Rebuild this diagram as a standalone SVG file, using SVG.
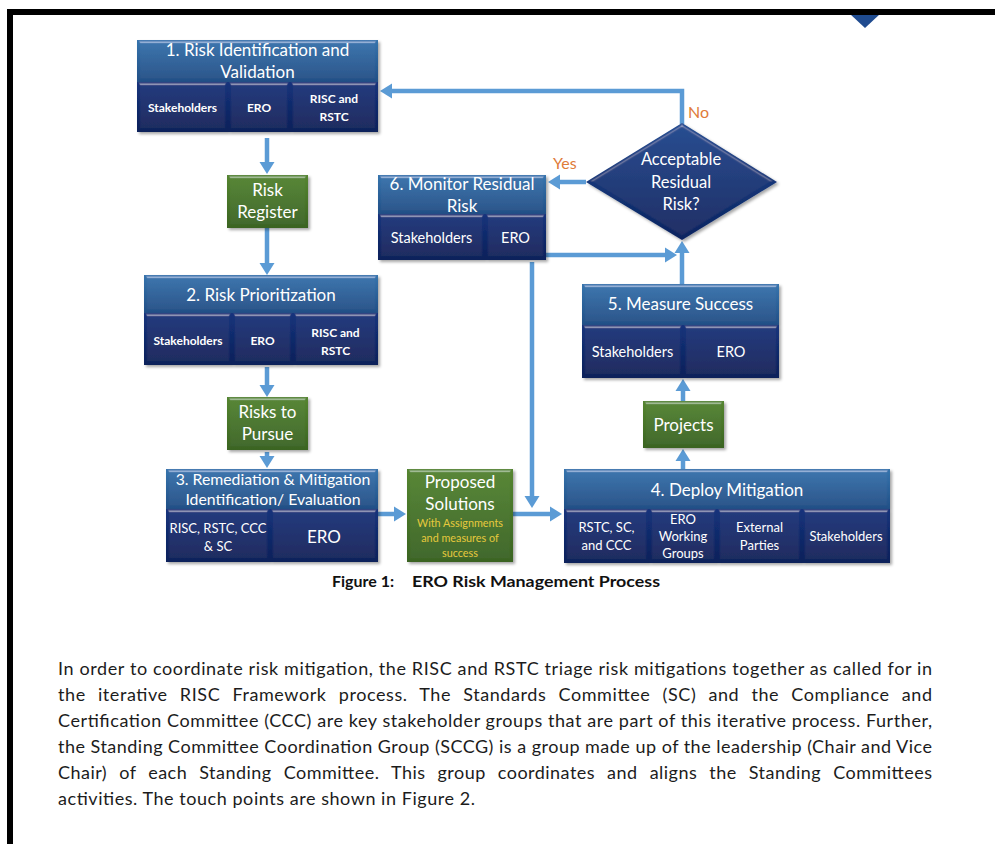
<svg xmlns="http://www.w3.org/2000/svg" width="995" height="844" viewBox="0 0 995 844">
  <defs>
    <linearGradient id="gHdr" x1="0" y1="0" x2="0" y2="1">
      <stop offset="0" stop-color="#3674ad"/>
      <stop offset="1" stop-color="#214f86"/>
    </linearGradient>
    <linearGradient id="gCell" x1="0" y1="0" x2="0" y2="1">
      <stop offset="0" stop-color="#15347c"/>
      <stop offset="1" stop-color="#0b205a"/>
    </linearGradient>
    <linearGradient id="gGrn" x1="0" y1="0" x2="0" y2="1">
      <stop offset="0" stop-color="#558530"/>
      <stop offset="1" stop-color="#3a6421"/>
    </linearGradient>
    <linearGradient id="gDia" x1="0" y1="0" x2="0" y2="1">
      <stop offset="0" stop-color="#1d4990"/>
      <stop offset="1" stop-color="#0c2460"/>
    </linearGradient>
    <!-- bevelled face with a soft drop shadow -->
    <filter id="bevel" x="-10%" y="-10%" width="125%" height="135%">
      <feGaussianBlur in="SourceAlpha" stdDeviation="1.6" result="blur"/>
      <feSpecularLighting in="blur" surfaceScale="3" specularConstant="0.6" specularExponent="24" lighting-color="#ffffff" result="spec">
        <feDistantLight azimuth="270" elevation="30"/>
      </feSpecularLighting>
      <feComposite in="spec" in2="SourceAlpha" operator="in" result="specIn"/>
      <feComposite in="SourceGraphic" in2="specIn" operator="arithmetic" k1="0" k2="1" k3="0.5" k4="0" result="lit"/>
      <feOffset in="SourceAlpha" dx="1.5" dy="2" result="off"/>
      <feGaussianBlur in="off" stdDeviation="1.5" result="offBlur"/>
      <feColorMatrix in="offBlur" type="matrix" values="0 0 0 0 0  0 0 0 0 0  0 0 0 0 0  0 0 0 0.35 0" result="shadow"/>
      <feMerge>
        <feMergeNode in="shadow"/>
        <feMergeNode in="lit"/>
      </feMerge>
    </filter>
    <marker id="arrow" viewBox="0 -8 13 16" markerWidth="13" markerHeight="16" refX="0" refY="0" orient="auto" markerUnits="userSpaceOnUse">
      <path d="M0,-7.5 L12,0 L0,7.5 z" fill="#5b9bd5"/>
    </marker>
    <style>
      .hdr { fill: url(#gHdr); filter: url(#bevel); }
      .cell { fill: url(#gCell); filter: url(#bevel); }
      .grn { fill: url(#gGrn); filter: url(#bevel); }
      .dia { fill: url(#gDia); filter: url(#bevel); }
      text { font-family: Lato, "Open Sans", "Liberation Sans", sans-serif; fill: #ffffff; text-anchor: middle; }
      .h { font-size: 17px; }
      .hs { font-size: 15.8px; }
      .cb { font-size: 12px; font-weight: bold; }
      .cm { font-size: 14.5px; }
      .cs { font-size: 13px; }
      .ye { font-size: 16.5px; }
      .yl { fill: #e6c93c; font-size: 10.8px; }
      .lbl { fill: #e07b39; font-size: 16px; text-anchor: start; }
      .cap { fill: #111111; font-size: 16px; font-weight: bold; text-anchor: start; }
      .para { fill: #1c1c1c; font-size: 18px; text-anchor: start; }
      .conn { fill: none; stroke: #5b9bd5; stroke-width: 4.5; marker-end: url(#arrow); }
    </style>
  </defs>

  <rect width="995" height="844" fill="#ffffff"/>

  <!-- page frame -->
  <polygon points="850,14 880,14 865,28" fill="#1f4b8f"/>
  <rect x="7" y="9" width="988" height="6" fill="#000000"/>
  <rect x="7" y="9" width="6" height="835" fill="#000000"/>

  <!-- connectors -->
  <g id="connectors">
    <line class="conn" x1="267" y1="138" x2="267" y2="162"/>
    <line class="conn" x1="267" y1="228" x2="267" y2="263"/>
    <line class="conn" x1="267" y1="367" x2="267" y2="385"/>
    <line class="conn" x1="267" y1="452" x2="267" y2="456"/>
    <line class="conn" x1="378" y1="514" x2="394" y2="514"/>
    <line class="conn" x1="513" y1="514" x2="550" y2="514"/>
    <line class="conn" x1="532" y1="262" x2="532" y2="496"/>
    <line class="conn" x1="683" y1="469" x2="683" y2="461"/>
    <line class="conn" x1="683" y1="401" x2="683" y2="391"/>
    <line class="conn" x1="682" y1="284" x2="682" y2="253"/>
    <line class="conn" x1="546" y1="255" x2="665" y2="255"/>
    <line class="conn" x1="586" y1="182" x2="560" y2="182"/>
    <polyline class="conn" points="682,124 682,91 392,91"/>
    <text class="lbl" x="553" y="169">Yes</text>
    <text class="lbl" x="688" y="118">No</text>
  </g>

  <!-- 1. Risk Identification and Validation -->
  <g id="node1">
    <rect class="hdr" x="137" y="40" width="241" height="42"/>
    <rect class="cell" x="137" y="82" width="91" height="50"/>
    <rect class="cell" x="228" y="82" width="62" height="50"/>
    <rect class="cell" x="290" y="82" width="88" height="50"/>
    <text class="h" x="257.5" y="56">1. Risk Identification and</text>
    <text class="h" x="257.5" y="78">Validation</text>
    <text class="cb" x="182.5" y="112">Stakeholders</text>
    <text class="cb" x="259" y="112">ERO</text>
    <text class="cb" x="334" y="103">RISC and</text>
    <text class="cb" x="334" y="121">RSTC</text>
  </g>

  <g id="riskRegister">
    <rect class="grn" x="227" y="175" width="81" height="53"/>
    <text class="h" x="267.5" y="196">Risk</text>
    <text class="h" x="267.5" y="218">Register</text>
  </g>

  <!-- 2. Risk Prioritization -->
  <g id="node2">
    <rect class="hdr" x="144" y="275" width="234" height="38"/>
    <rect class="cell" x="144" y="313" width="88" height="52"/>
    <rect class="cell" x="232" y="313" width="61" height="52"/>
    <rect class="cell" x="293" y="313" width="85" height="52"/>
    <text class="h" x="261" y="301">2. Risk Prioritization</text>
    <text class="cb" x="188" y="345">Stakeholders</text>
    <text class="cb" x="262.5" y="345">ERO</text>
    <text class="cb" x="335.5" y="337">RISC and</text>
    <text class="cb" x="335.5" y="355">RSTC</text>
  </g>

  <g id="risksToPursue">
    <rect class="grn" x="227" y="397" width="81" height="53"/>
    <text class="h" x="267.5" y="418">Risks to</text>
    <text class="h" x="267.5" y="440">Pursue</text>
  </g>

  <!-- 3. Remediation & Mitigation -->
  <g id="node3">
    <rect class="hdr" x="166" y="469" width="212" height="40"/>
    <rect class="cell" x="166" y="509" width="104" height="53"/>
    <rect class="cell" x="270" y="509" width="108" height="53"/>
    <text class="hs" x="273" y="485">3. Remediation &amp; Mitigation</text>
    <text class="hs" x="273" y="505">Identification/ Evaluation</text>
    <text class="cs" x="218" y="533">RISC, RSTC, CCC</text>
    <text class="cs" x="218" y="551">&amp; SC</text>
    <text class="h" x="324" y="543">ERO</text>
  </g>

  <g id="proposedSolutions">
    <rect class="grn" x="407" y="469" width="106" height="93"/>
    <text class="h" x="460" y="488">Proposed</text>
    <text class="h" x="460" y="510">Solutions</text>
    <text class="yl" x="460" y="527">With Assignments</text>
    <text class="yl" x="460" y="542">and measures of</text>
    <text class="yl" x="460" y="557">success</text>
  </g>

  <!-- 4. Deploy Mitigation -->
  <g id="node4">
    <rect class="hdr" x="564" y="469" width="326" height="40"/>
    <rect class="cell" x="564" y="509" width="85" height="54"/>
    <rect class="cell" x="649" y="509" width="68" height="54"/>
    <rect class="cell" x="717" y="509" width="85" height="54"/>
    <rect class="cell" x="802" y="509" width="88" height="54"/>
    <text class="h" x="727" y="496">4. Deploy Mitigation</text>
    <text class="cs" x="606.5" y="532">RSTC, SC,</text>
    <text class="cs" x="606.5" y="550">and CCC</text>
    <text class="cs" x="683" y="524">ERO</text>
    <text class="cs" x="683" y="541">Working</text>
    <text class="cs" x="683" y="558">Groups</text>
    <text class="cs" x="759.5" y="532">External</text>
    <text class="cs" x="759.5" y="550">Parties</text>
    <text class="cs" x="846" y="541">Stakeholders</text>
  </g>

  <g id="projects">
    <rect class="grn" x="643" y="401" width="81" height="47"/>
    <text class="h" x="683.5" y="431">Projects</text>
  </g>

  <!-- 5. Measure Success -->
  <g id="node5">
    <rect class="hdr" x="582" y="284" width="197" height="41"/>
    <rect class="cell" x="582" y="325" width="101" height="53"/>
    <rect class="cell" x="683" y="325" width="96" height="53"/>
    <text class="h" x="680.5" y="310">5. Measure Success</text>
    <text class="cm" x="632.5" y="357">Stakeholders</text>
    <text class="cm" x="731" y="357">ERO</text>
  </g>

  <!-- decision -->
  <g id="decision">
    <polygon class="dia" points="682,123 777,182 682,240 586,182"/>
    <text class="ye" x="681" y="165">Acceptable</text>
    <text class="ye" x="681" y="188">Residual</text>
    <text class="ye" x="681" y="210">Risk?</text>
  </g>

  <!-- 6. Monitor Residual Risk -->
  <g id="node6">
    <rect class="hdr" x="378" y="175" width="168" height="39"/>
    <rect class="cell" x="378" y="214" width="107" height="46"/>
    <rect class="cell" x="485" y="214" width="61" height="46"/>
    <text class="h" x="462" y="190">6. Monitor Residual</text>
    <text class="h" x="462" y="212">Risk</text>
    <text class="cm" x="431.5" y="243">Stakeholders</text>
    <text class="cm" x="515.5" y="243">ERO</text>
  </g>

  <!-- caption -->
  <text class="cap" x="332" y="587">Figure 1:</text>
  <text class="cap" x="412" y="587" textLength="248" lengthAdjust="spacingAndGlyphs">ERO Risk Management Process</text>

  <!-- body text -->
  <g id="bodyText">
    <text class="para" x="58" y="675" textLength="874" lengthAdjust="spacing">In order to coordinate risk mitigation, the RISC and RSTC triage risk mitigations together as called for in</text>
    <text class="para" x="58" y="701" textLength="874" lengthAdjust="spacing" word-spacing="7">the iterative RISC Framework process. The Standards Committee (SC) and the Compliance and</text>
    <text class="para" x="58" y="727" textLength="874" lengthAdjust="spacing">Certification Committee (CCC) are key stakeholder groups that are part of this iterative process. Further,</text>
    <text class="para" x="58" y="753" textLength="874" lengthAdjust="spacing">the Standing Committee Coordination Group (SCCG) is a group made up of the leadership (Chair and Vice</text>
    <text class="para" x="58" y="779" textLength="874" lengthAdjust="spacing" word-spacing="7">Chair) of each Standing Committee. This group coordinates and aligns the Standing Committees</text>
    <text class="para" x="58" y="805" textLength="417" lengthAdjust="spacing">activities. The touch points are shown in Figure 2.</text>
  </g>
</svg>
